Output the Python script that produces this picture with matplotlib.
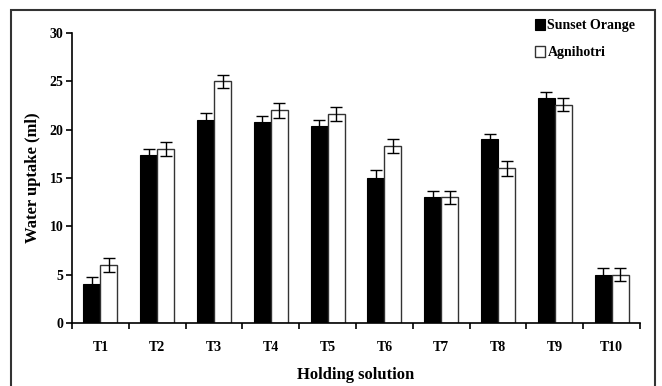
import numpy as np
import matplotlib
matplotlib.use('Agg')
import matplotlib.pyplot as plt
from matplotlib.patches import Rectangle

plt.rcParams['font.family'] = 'Liberation Serif'
plt.rcParams['font.weight'] = 'bold'

# data
treatments = ['T1', 'T2', 'T3', 'T4', 'T5', 'T6', 'T7', 'T8', 'T9', 'T10']
sunset = [4.0, 17.4, 21.0, 20.8, 20.4, 15.0, 13.0, 19.0, 23.3, 5.0]
agni = [6.0, 18.0, 25.0, 22.0, 21.6, 18.3, 13.0, 16.0, 22.6, 5.0]
sunset_err = [0.8, 0.6, 0.7, 0.6, 0.6, 0.8, 0.7, 0.6, 0.6, 0.7]
agni_err = [0.7, 0.7, 0.7, 0.8, 0.7, 0.7, 0.7, 0.8, 0.7, 0.7]

fig = plt.figure(figsize=(6.62, 3.86), dpi=100)
ax = fig.add_axes([0.1088, 0.1632, 0.858, 0.7513])

x = np.arange(len(treatments))
w = 0.3
ax.bar(x - w / 2, sunset, w, color='black', edgecolor='black', linewidth=0.8,
       yerr=sunset_err, capsize=4, error_kw=dict(elinewidth=1, capthick=1, ecolor='black'),
       label='Sunset Orange')
ax.bar(x + w / 2, agni, w, color='white', edgecolor='#333333', linewidth=1,
       yerr=agni_err, capsize=4, error_kw=dict(elinewidth=1, capthick=1, ecolor='black'),
       label='Agnihotri')

ax.set_xlim(-0.5, len(treatments) - 0.5)
ax.set_ylim(0, 30)
ax.set_yticks([0, 5, 10, 15, 20, 25, 30])
ax.set_xticks(np.arange(len(treatments) + 1) - 0.5)
ax.set_xticklabels([])
ax.set_xticks(x, minor=True)
ax.set_xticklabels(treatments, minor=True)
ax.tick_params(axis='x', which='minor', length=0, pad=13, labelsize=10)
ax.tick_params(axis='x', which='major', direction='out', length=4, width=1.2)
ax.tick_params(axis='y', direction='out', length=4, width=1.2, pad=2, labelsize=10)
for lab in ax.get_yticklabels() + ax.get_xticklabels(minor=True):
    lab.set_fontweight('bold')

ax.spines['top'].set_visible(False)
ax.spines['right'].set_visible(False)
ax.spines['left'].set_linewidth(1.2)
ax.spines['bottom'].set_linewidth(1.2)

ax.set_ylabel('Water uptake (ml)', fontsize=12, fontweight='bold', labelpad=6)
ax.set_xlabel('Holding solution', fontsize=12, fontweight='bold', labelpad=9)

leg = ax.legend(loc='upper right', bbox_to_anchor=(1.014, 1.09), frameon=False,
                prop={'weight': 'bold', 'size': 10}, handlelength=0.75, handleheight=0.75,
                handletextpad=0.15, labelspacing=1.0)

# outer frame around the whole figure
fig.patches.append(Rectangle((11 / 662, -0.05), (655 - 11) / 662, 1.05 - 10 / 386,
                             transform=fig.transFigure, fill=False,
                             edgecolor='#333333', linewidth=1.5))

fig.savefig('out.png', dpi=100)
